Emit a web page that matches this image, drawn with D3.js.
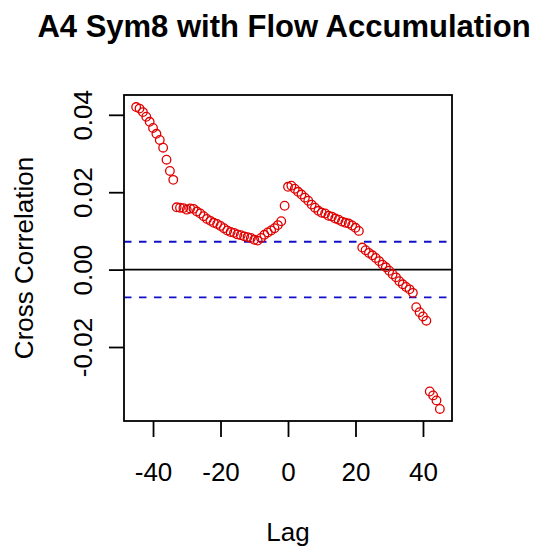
<!DOCTYPE html>
<html>
<head>
<meta charset="utf-8">
<script src="https://cdn.jsdelivr.net/npm/d3@7"></script>
<style>
  html, body { margin: 0; padding: 0; background: #fff; }
  svg { display: block; font-family: "Liberation Sans", Arial, sans-serif; }
</style>
</head>
<body>
<div id="chart"></div>
<script>
// ---------- Data ----------
const title = "A4 Sym8 with Flow Accumulation";
const xLabel = "Lag";
const yLabel = "Cross Correlation";

const lags = d3.range(-45, 46);
const ccf = [
  // -45 .. -34
  0.0420, 0.0416, 0.0407, 0.0395, 0.0382, 0.0366, 0.0351, 0.0335, 0.0315, 0.0284, 0.0255, 0.0232,
  // -33 .. -1
  0.0161, 0.0160, 0.0159, 0.0155, 0.0158, 0.0157, 0.0150, 0.0145, 0.0138, 0.0131, 0.0126,
  0.0121, 0.0118, 0.0113, 0.0107, 0.0101, 0.0097, 0.0095, 0.0091, 0.0089, 0.0086, 0.0084,
  0.0082, 0.0077, 0.0075, 0.0082, 0.0090, 0.0096, 0.0101, 0.0107, 0.0115, 0.0125, 0.0165,
  // 0 .. 21
  0.0214, 0.0217, 0.0209, 0.0201, 0.0194, 0.0186, 0.0178, 0.0168, 0.0160, 0.0152, 0.0147,
  0.0145, 0.0139, 0.0137, 0.0132, 0.0129, 0.0124, 0.0121, 0.0119, 0.0114, 0.0108, 0.0100,
  // 22 .. 37
  0.0057, 0.0050, 0.0043, 0.0037, 0.0030, 0.0022, 0.0013, 0.0006,
  -0.0003, -0.0012, -0.0020, -0.0030, -0.0038, -0.0045, -0.0051, -0.0060,
  // 38 .. 45
  -0.0097, -0.0110, -0.0121, -0.0132, -0.0315, -0.0325, -0.0338, -0.0360
];
const ciLimit = 0.0072;
const xTicks = [-40, -20, 0, 20, 40];
const yTicks = [-0.02, 0.00, 0.02, 0.04];
const xTickLabels = ["-40", "-20", "0", "20", "40"];
const yTickLabels = ["-0.02", "0.00", "0.02", "0.04"];

const points = lags.map((lag, i) => ({ lag, value: ccf[i] }));

// ---------- Layout ----------
const width = 551, height = 547;
const margin = { top: 95, right: 99, bottom: 126, left: 124 };

// R style 4% padding
function pad(ext) {
  const d = (ext[1] - ext[0]) * 0.04;
  return [ext[0] - d, ext[1] + d];
}

const x = d3.scaleLinear()
  .domain(pad(d3.extent(lags)))
  .range([margin.left, width - margin.right]);

const y = d3.scaleLinear()
  .domain(pad(d3.extent(ccf)))
  .range([height - margin.bottom, margin.top]);

const svg = d3.select("#chart").append("svg")
  .attr("width", width)
  .attr("height", height);

// title
svg.append("text")
  .attr("x", 284)
  .attr("y", 37)
  .attr("text-anchor", "middle")
  .attr("font-weight", "bold")
  .attr("font-size", 31)
  .text(title);

// reference lines
svg.append("line")
  .attr("x1", x.range()[0]).attr("x2", x.range()[1])
  .attr("y1", y(0)).attr("y2", y(0))
  .attr("stroke", "#000").attr("stroke-width", 1.8);

svg.selectAll("line.ci")
  .data([ciLimit, -ciLimit])
  .join("line")
  .attr("class", "ci")
  .attr("x1", x.range()[0]).attr("x2", x.range()[1])
  .attr("y1", d => y(d)).attr("y2", d => y(d))
  .attr("stroke", "#1010c8")
  .attr("stroke-width", 1.8)
  .attr("stroke-dasharray", "7.5,7.5");

// points
svg.append("g")
  .selectAll("circle")
  .data(points)
  .join("circle")
  .attr("cx", d => x(d.lag))
  .attr("cy", d => y(d.value))
  .attr("r", 4.3)
  .attr("fill", "none")
  .attr("stroke", "#e00000")
  .attr("stroke-width", 1.3);

// box
svg.append("rect")
  .attr("x", margin.left)
  .attr("y", margin.top)
  .attr("width", width - margin.left - margin.right)
  .attr("height", height - margin.top - margin.bottom)
  .attr("fill", "none")
  .attr("stroke", "#000")
  .attr("stroke-width", 1.8);

// axes
const xAxis = svg.append("g")
  .attr("transform", `translate(0,${height - margin.bottom})`)
  .call(d3.axisBottom(x).tickValues(xTicks).tickSize(16)
    .tickFormat((d, i) => xTickLabels[i]));

const yAxis = svg.append("g")
  .attr("transform", `translate(${margin.left},0)`)
  .call(d3.axisLeft(y).tickValues(yTicks).tickSize(15)
    .tickFormat((d, i) => yTickLabels[i]));

[xAxis, yAxis].forEach(g => {
  g.select(".domain").remove();
  g.selectAll(".tick line").attr("stroke", "#000").attr("stroke-width", 1.8);
  g.selectAll(".tick text")
    .attr("font-family", "Liberation Sans, Arial, sans-serif")
    .attr("font-size", 26)
    .attr("fill", "#000");
});

xAxis.selectAll(".tick text")
  .attr("dy", null)
  .attr("y", 60);

yAxis.selectAll(".tick text")
  .attr("x", null)
  .attr("dy", null)
  .attr("text-anchor", "middle")
  .attr("transform", "translate(-32,0) rotate(-90)");

// axis titles
svg.append("text")
  .attr("x", (x.range()[0] + x.range()[1]) / 2)
  .attr("y", 541)
  .attr("text-anchor", "middle")
  .attr("font-size", 26)
  .text(xLabel);

svg.append("text")
  .attr("transform", `translate(33,${(y.range()[0] + y.range()[1]) / 2}) rotate(-90)`)
  .attr("text-anchor", "middle")
  .attr("font-size", 26)
  .text(yLabel);
</script>
</body>
</html>
